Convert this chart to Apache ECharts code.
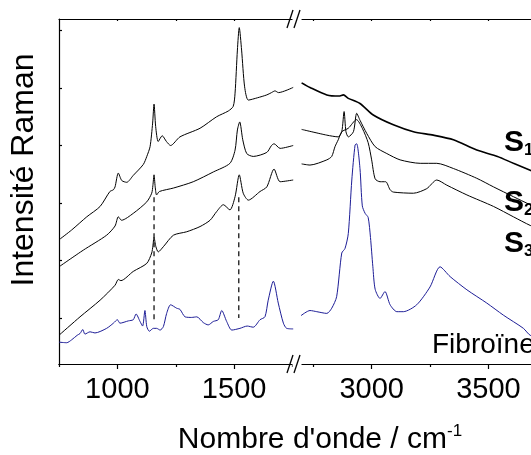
<!DOCTYPE html>
<html><head><meta charset="utf-8">
<script src="https://cdn.jsdelivr.net/npm/echarts@6/dist/echarts.min.js"></script>
<style>html,body{margin:0;padding:0;background:#fff}#c{width:531px;height:455px}</style>
</head><body><div id="c"></div>
<script>
// wavenumber (cm-1), intensity (a.u., offset spectra)
const s1Left = [[750,2.16],[804,2.33],[869,2.56],[926,2.74],[968,3.00],[983,3.03],[990,3.08],[1004,3.32],[1019,3.19],[1040,3.16],[1068,3.28],[1111,3.47],[1126,3.61],[1140,3.78],[1151,4.19],[1157,4.52],[1164,4.13],[1175,3.87],[1192,3.97],[1210,3.87],[1228,3.80],[1268,3.95],[1354,4.10],[1425,4.30],[1475,4.40],[1496,4.48],[1504,4.71],[1514,5.46],[1522,5.85],[1532,5.46],[1545,4.82],[1561,4.59],[1600,4.63],[1640,4.68],[1660,4.72],[1675,4.75],[1690,4.72],[1753,4.81]];
const s1Right = [[2700,4.89],[2736,4.81],[2808,4.68],[2860,4.66],[2879,4.68],[2900,4.62],[2950,4.53],[3007,4.33],[3093,4.16],[3179,4.04],[3264,3.98],[3350,3.90],[3450,3.72],[3539,3.61],[3607,3.49],[3679,3.37],[3800,3.17]];
const s2Left = [[750,1.69],[854,1.98],[954,2.24],[990,2.40],[1004,2.56],[1018,2.50],[1068,2.62],[1126,2.82],[1147,2.97],[1152,3.10],[1157,3.29],[1162,3.08],[1168,2.94],[1180,3.00],[1240,3.06],[1325,3.17],[1411,3.34],[1482,3.49],[1504,3.72],[1514,4.07],[1524,4.21],[1537,3.90],[1554,3.66],[1582,3.61],[1640,3.68],[1660,3.80],[1671,3.83],[1697,3.75],[1753,3.80]];
const s2Right = [[2700,4.08],[2808,3.98],[2857,3.95],[2872,4.04],[2882,4.39],[2890,4.04],[2900,3.95],[2922,4.04],[2936,4.36],[2950,4.24],[2979,4.01],[3015,3.78],[3065,3.66],[3122,3.55],[3208,3.49],[3279,3.49],[3350,3.40],[3450,3.23],[3522,3.08],[3607,2.91],[3679,2.77],[3800,2.55]];
const s3Left = [[750,0.50],[840,0.82],[926,1.11],[990,1.37],[1004,1.47],[1015,1.45],[1068,1.61],[1126,1.75],[1147,1.93],[1152,2.05],[1157,2.20],[1165,2.04],[1175,1.95],[1197,2.04],[1240,2.24],[1297,2.30],[1354,2.39],[1397,2.50],[1425,2.65],[1454,2.77],[1482,2.68],[1504,2.91],[1522,3.29],[1539,2.97],[1561,2.85],[1611,3.00],[1640,3.08],[1671,3.39],[1697,3.17],[1753,3.20]];
const s3Right = [[2700,3.48],[2736,3.46],[2808,3.55],[2829,3.61],[2843,3.78],[2857,3.90],[2872,4.04],[2900,4.10],[2935,4.25],[2960,4.10],[2985,3.85],[3000,3.55],[3015,3.22],[3036,3.17],[3060,3.17],[3079,3.03],[3093,2.99],[3179,2.97],[3236,3.05],[3279,3.20],[3322,3.11],[3408,2.94],[3522,2.74],[3607,2.56],[3679,2.41],[3800,2.20]];
const fibLeft = [[750,0.38],[783,0.37],[804,0.42],[828,0.50],[840,0.53],[852,0.60],[861,0.52],[883,0.56],[904,0.54],[954,0.62],[983,0.71],[1000,0.77],[1011,0.71],[1047,0.75],[1068,0.77],[1080,0.87],[1097,0.74],[1108,0.66],[1118,0.93],[1126,0.65],[1137,0.57],[1154,0.62],[1168,0.62],[1183,0.59],[1197,0.65],[1211,0.88],[1228,1.03],[1254,0.97],[1268,0.95],[1290,0.82],[1318,0.81],[1340,0.82],[1368,0.72],[1389,0.68],[1411,0.74],[1432,0.77],[1447,0.93],[1468,0.74],[1490,0.59],[1525,0.62],[1556,0.66],[1582,0.64],[1611,0.77],[1632,0.82],[1646,1.11],[1668,1.44],[1689,1.06],[1711,0.71],[1725,0.62],[1753,0.61]];
const fibRight = [[2697,0.84],[2736,0.93],[2765,0.91],[2808,0.88],[2829,0.97],[2850,1.17],[2872,1.93],[2886,2.01],[2900,2.27],[2915,3.20],[2929,3.81],[2936,3.83],[2950,3.40],[2960,2.75],[2972,2.62],[2985,2.55],[2995,2.20],[3005,1.70],[3015,1.30],[3036,1.14],[3057,1.26],[3079,1.03],[3108,0.91],[3136,0.91],[3193,1.03],[3250,1.34],[3293,1.69],[3336,1.52],[3408,1.29],[3493,1.06],[3564,0.85],[3650,0.62],[3679,0.50],[3800,0.30]];
const dashed1 = [[1157,2.90],[1157,0.72]];
const dashed2 = [[1520,2.90],[1520,0.80]];
const leftRange = [750,1750];
const rightRange = [2700,3900];
const yRange = [0,6];
const yTicks = [0.8,1.8,2.8,3.8,4.8,5.8];
const leftMajor = [1000,1500], leftMinor = [750,1250,1750], leftTop = [1000,1250,1500];
const rightMajor = [3000,3500], rightMinor = [2750,3250,3750], rightTop = [2750,3000,3250,3500,3750];
const seriesLabels = ['S','S','S'], seriesSubs = ['1','2','3'];

const FONT = '"Liberation Sans", Arial, sans-serif';
const chart = echarts.init(document.getElementById('c'), null, {renderer:'canvas'});
const pxPerUnit = 0.2335;
const axLine = {show:true, lineStyle:{color:'#000', width:1.2}};
function xAx(grid, range, pos, ticks, len, inside, labels){
  return {type:'value', gridIndex:grid, position:pos, min:range[0], max:range[1],
    axisLine: axLine, splitLine:{show:false},
    axisTick:{show:true, inside:inside, length:len, customValues:ticks, lineStyle:{color:'#000', width:1.2}},
    axisLabel: labels ? {show:true, customValues:labels, margin:11, fontSize:29, color:'#000', fontFamily:FONT, formatter:v=>String(v)} : {show:false}};
}
function line(data, xi, color, w){
  return {type:'line', data:data, xAxisIndex:xi, yAxisIndex:xi<3?0:1, showSymbol:false, symbol:'none', smooth:0.25,
    lineStyle:{color:color, width:w}, silent:true, animation:false};
}
const BLUE = '#1d1d96';
chart.setOption({
  animation:false,
  grid:[
    {left:59, top:19, width:(leftRange[1]-leftRange[0])*pxPerUnit, height:345, outerBoundsMode:'none', containLabel:false},
    {left:301.6, top:19, width:(rightRange[1]-rightRange[0])*pxPerUnit, height:345, outerBoundsMode:'none', containLabel:false}
  ],
  xAxis:[
    xAx(0,leftRange,'bottom',leftMajor,5,false,leftMajor),
    xAx(0,leftRange,'bottom',leftMinor,3,false,null),
    xAx(0,leftRange,'top',leftTop,2,true,null),
    xAx(1,rightRange,'bottom',rightMajor,5,false,rightMajor),
    xAx(1,rightRange,'bottom',rightMinor,3,false,null),
    xAx(1,rightRange,'top',rightTop,2,true,null)
  ],
  yAxis:[
    {type:'value', gridIndex:0, min:yRange[0], max:yRange[1], axisLine:axLine, splitLine:{show:false},
     axisTick:{show:true, inside:true, length:3, customValues:yTicks, lineStyle:{color:'#000',width:1.2}}, axisLabel:{show:false}},
    {type:'value', gridIndex:1, min:yRange[0], max:yRange[1], show:false, splitLine:{show:false}}
  ],
  series:[
    line(s1Left,0,'#000',1), line(s2Left,0,'#000',1), line(s3Left,0,'#000',1), line(fibLeft,0,BLUE,1),
    line(s1Right,3,'#000',1.6), line(s2Right,3,'#000',1), line(s3Right,3,'#000',1), line(fibRight,3,BLUE,1),
    {type:'line', data:dashed1, xAxisIndex:0, yAxisIndex:0, showSymbol:false, symbol:'none', lineStyle:{color:'#000',width:1.2,type:[5,4]}, silent:true},
    {type:'line', data:dashed2, xAxisIndex:0, yAxisIndex:0, showSymbol:false, symbol:'none', lineStyle:{color:'#000',width:1.2,type:[5,4]}, silent:true}
  ],
  graphic:[
    {type:'rect', shape:{x:292.5, y:14, width:9, height:10}, style:{fill:'#fff'}, z:100},
    {type:'rect', shape:{x:292.5, y:358, width:9, height:12}, style:{fill:'#fff'}, z:100},
    {type:'line', shape:{x1:287, y1:28, x2:293, y2:10}, style:{stroke:'#000', lineWidth:1.3}, z:101},
    {type:'line', shape:{x1:294, y1:28, x2:300, y2:10}, style:{stroke:'#000', lineWidth:1.3}, z:101},
    {type:'line', shape:{x1:287, y1:373, x2:293, y2:355}, style:{stroke:'#000', lineWidth:1.3}, z:101},
    {type:'line', shape:{x1:294, y1:373, x2:300, y2:355}, style:{stroke:'#000', lineWidth:1.3}, z:101},
    {type:'text', x:24, y:170, rotation:Math.PI/2, z:110,
     style:{text:'Intensité Raman', fontSize:32, fontFamily:FONT, fill:'#000', align:'center', verticalAlign:'middle', textAlign:'center', textVerticalAlign:'middle'}},
    {type:'text', x:320, y:440, z:110,
     style:{text:"{m|Nombre d'onde / cm}{s|-1}", fontFamily:FONT, fill:'#000', align:'center', verticalAlign:'middle', textAlign:'center', textVerticalAlign:'middle',
       rich:{m:{fontSize:30, fontFamily:FONT, fill:'#000'}, s:{fontSize:17, fontFamily:FONT, fill:'#000', verticalAlign:'top', padding:[0,0,18,0]}}}},
    {type:'text', x:432, y:345, z:110,
     style:{text:'Fibroïne', fontSize:28, fontFamily:FONT, fill:'#000', align:'left', verticalAlign:'middle', textAlign:'left', textVerticalAlign:'middle'}},
    ...[143,203,244].map((yy,i)=>({type:'text', x:504, y:yy, z:110,
     style:{text:'{a|'+seriesLabels[i]+'}{b|'+seriesSubs[i]+'}', fontFamily:FONT, fill:'#000', align:'left', verticalAlign:'middle', textAlign:'left', textVerticalAlign:'middle',
       rich:{a:{fontSize:30, fontWeight:'bold', fontFamily:FONT, fill:'#000'}, b:{fontSize:17, fontWeight:'bold', fontFamily:FONT, fill:'#000', padding:[14,0,0,0]}}}}))
  ]
});
</script></body></html>
